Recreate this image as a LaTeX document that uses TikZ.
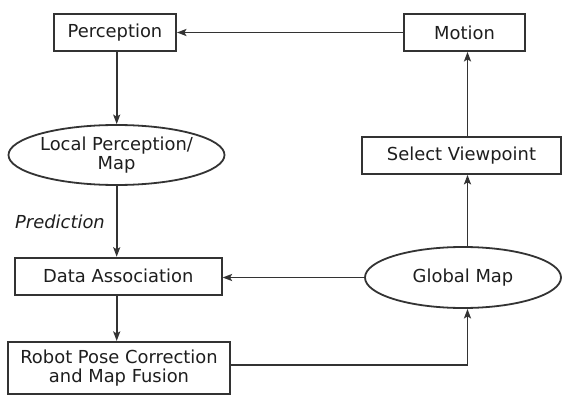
\documentclass[tikz,border=0pt]{standalone}
\usepackage{fontspec}
\setmainfont{DejaVu Sans}
\usetikzlibrary{arrows.meta,shapes.geometric}
\definecolor{linec}{HTML}{333333}
\definecolor{textc}{HTML}{1E1E1E}
\begin{document}
\begin{tikzpicture}[x=1pt,y=-1pt,
  every node/.style={font=\fontsize{17.9}{18.5}\selectfont, text=textc},
  box/.style={draw=linec, line width=1.8pt, rectangle, inner sep=0pt, align=center},
  ell/.style={draw=linec, line width=1.8pt, ellipse, inner sep=0pt, align=center},
  arr/.style={draw=linec, line width=1.7pt, -{Stealth[length=9.5pt,width=7pt,inset=2pt]}}]
\fill[white] (0,0) rectangle (563,396);
\useasboundingbox (0,0) rectangle (563,396);

\node[box, minimum width=122pt, minimum height=37pt] (perc) at (115,32.5) {Perception};
\node[box, minimum width=121pt, minimum height=37pt] (motion) at (464.5,32.5) {Motion};
\node[ell, minimum width=203pt, minimum height=60pt] (local) at (116.5,155) {Local Perception/\\Map};
\node[box, minimum width=199pt, minimum height=37.3pt] (select) at (461.5,155.3) {Select Viewpoint};
\node[ell, minimum width=196pt, minimum height=61pt] (global) at (463,277.5) {Global Map};
\node[box, minimum width=206.7pt, minimum height=37.3pt] (data) at (118.3,276.3) {Data Association};
\node[box, minimum width=222pt, minimum height=52.3pt] (robot) at (119,368) {Robot Pose Correction\\and Map Fusion};
\node[anchor=west, inner sep=0pt, font=\fontsize{17.9}{18.5}\selectfont\itshape] (pred) at (15,221.7) {Prediction};

\coordinate (col) at (467.5,0);
\coordinate (lcol) at (116.7,0);

\draw[arr] (motion.west) -- (motion.west -| perc.east);
\draw[arr] (lcol |- perc.south) -- (lcol |- local.north);
\draw[arr] (lcol |- local.south) -- (lcol |- data.north);
\draw[arr] (lcol |- data.south) -- (lcol |- robot.north);
\draw[arr] (global.west) -- (global.west -| data.east);
\draw[arr] ([yshift=3pt]robot.east) -| (col |- global.south);
\draw[arr] (col |- global.north) -- (col |- select.south);
\draw[arr] (col |- select.north) -- (col |- motion.south);
\end{tikzpicture}
\end{document}
